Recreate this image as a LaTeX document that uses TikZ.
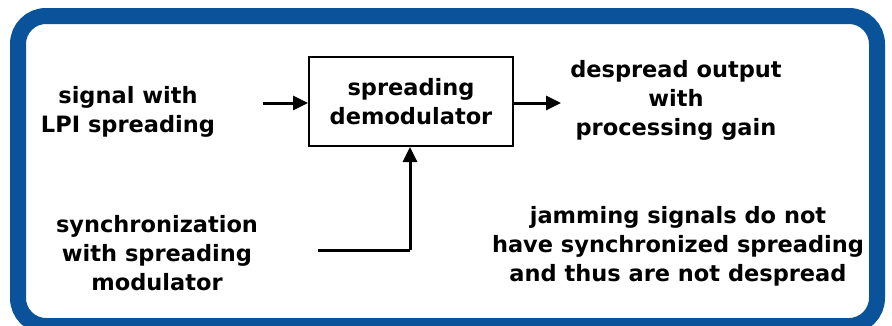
\documentclass[tikz,border=0pt]{standalone}
\usepackage{fontspec}
\setmainfont{DejaVu Sans}
\usetikzlibrary{arrows.meta}
\definecolor{frameblue}{RGB}{10,83,155}
\begin{document}
\begin{tikzpicture}[x=1pt,y=-1pt,
  lbl/.style={align=center,font=\bfseries\fontsize{22.5}{29}\selectfont,inner sep=0pt},
  conn/.style={line width=3pt,-{Triangle[length=15pt,width=14pt]}},
  blockbox/.style={draw,line width=2pt,minimum width=204pt,minimum height=89pt,inner sep=0pt}]
\useasboundingbox (0,0) rectangle (892,325);
\fill[white] (0,0) rectangle (892,325);
\draw[frameblue,line width=16pt,rounded corners=28pt] (18,16) rectangle (877,326);
\node[blockbox] (demod) at (411,101.5) {};
\node[lbl] (dtext) at (411,102) {spreading\\demodulator};
\node[lbl] (sig) at (128,112) {signal with\\LPI spreading};
\node[lbl] (out) at (676,100) {despread output\\with\\processing gain};
\node[lbl] (sync) at (157,253) {synchronization\\with spreading\\modulator};
\node[lbl] (jam) at (678,246) {jamming signals do not\\have synchronized spreading\\and thus are not despread};
\coordinate (inS) at (263,103);
\coordinate (outE) at (561,103);
\coordinate (syS) at (318,250);
\coordinate (syC) at (410,250);
\draw[conn] (inS) -- (inS -| demod.west);
\draw[conn] (demod.east |- outE) -- (outE);
\draw[line width=3pt] (syS) -- (syC);
\draw[conn] (syC) -- (syC |- demod.south);
\end{tikzpicture}
\end{document}
